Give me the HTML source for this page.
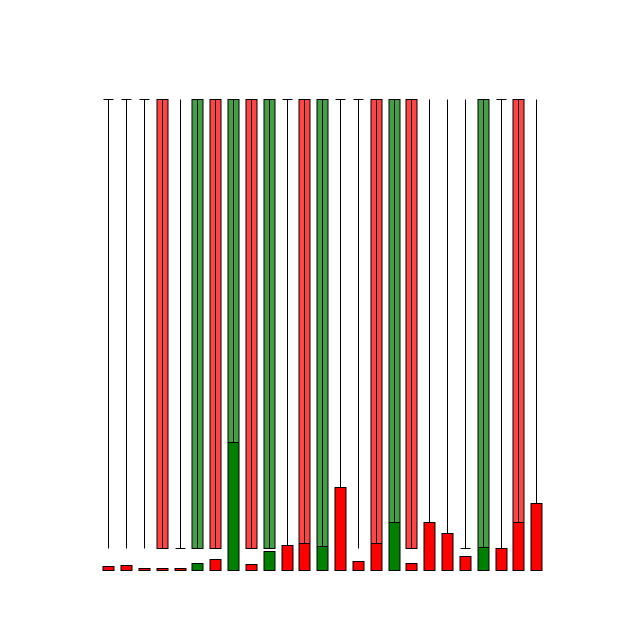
<!DOCTYPE html>
<html><head><meta charset="utf-8"><style>html,body{margin:0;padding:0;background:#fff;width:640px;height:640px;overflow:hidden}</style></head>
<body>
<svg id="chart" width="640" height="640" xmlns="http://www.w3.org/2000/svg"></svg>
<script>
// Price series normalized 0..1 (NaN open/close = plain wick with no tick)
const highs  = [1,1,1,1,1,1,1,1,1,1,1,1,1,1,1,1,1,1,1,1,1,1,1,1,1];
const lows   = [0,0,0,0,0,0,0,0,0,0,0,0,0,0,0,0,0,0,0,0,0,0,0,0,0];
const opens  = [1,1,1,1,0,0,1,0,1,0,1,1,0,1,1,1,0,1,NaN,NaN,0,0,1,1,NaN];
const closes = [1,1,1,0,0,1,0,1,0,1,1,0,1,1,1,0,1,0,NaN,NaN,0,1,1,0,NaN];
const volumes = [4,5,2,2,2,7,11,128,6,19,25,27,24,83,9,27,48,7,48,37,14,23,22,48,67];
const volColors = ['r','r','r','r','r','g','r','g','r','g','r','r','g','r','r','r','g','r','r','r','r','g','r','r','r'];

const svg = document.getElementById('chart');
const NS = 'http://www.w3.org/2000/svg';
const xPos = i => Math.round(108.3 + i * 17.83) + 0.5;
const yPrice = v => Math.round(548 - v * 449) + 0.5;
const yVol = v => 570.5 - v;
const bw = 11;

function mk(tag, attrs) {
  const e = document.createElementNS(NS, tag);
  for (const k in attrs) e.setAttribute(k, attrs[k]);
  svg.appendChild(e);
  return e;
}

highs.forEach((h, i) => {
  const x = xPos(i);
  const o = opens[i], c = closes[i];
  if (!isNaN(o) && o !== c) {
    const body = mk('rect', {x: x - bw/2, y: yPrice(Math.max(o,c)), width: bw, height: Math.abs(yPrice(o)-yPrice(c)), fill: c > o ? '#44a044' : '#ff4444', stroke: '#000', 'stroke-width': 1});
    
    
  }
  const wick = mk('line', {x1: x, x2: x, y1: yPrice(h), y2: yPrice(lows[i]), stroke: '#000', 'stroke-width': 1});
  
  
  if (!isNaN(o) && o === c) {
    const t = mk('line', {x1: x - 5, x2: x + 5, y1: yPrice(o), y2: yPrice(o), stroke: '#000', 'stroke-width': 1});
    
    
  }
});

volumes.forEach((v, i) => {
  const x = xPos(i);
  const b = mk('rect', {x: x - bw/2, y: yVol(v), width: bw, height: v, fill: volColors[i] === 'g' ? '#008000' : '#ff0000', stroke: '#000', 'stroke-width': 1});
  
  
});
</script>
</body></html>
